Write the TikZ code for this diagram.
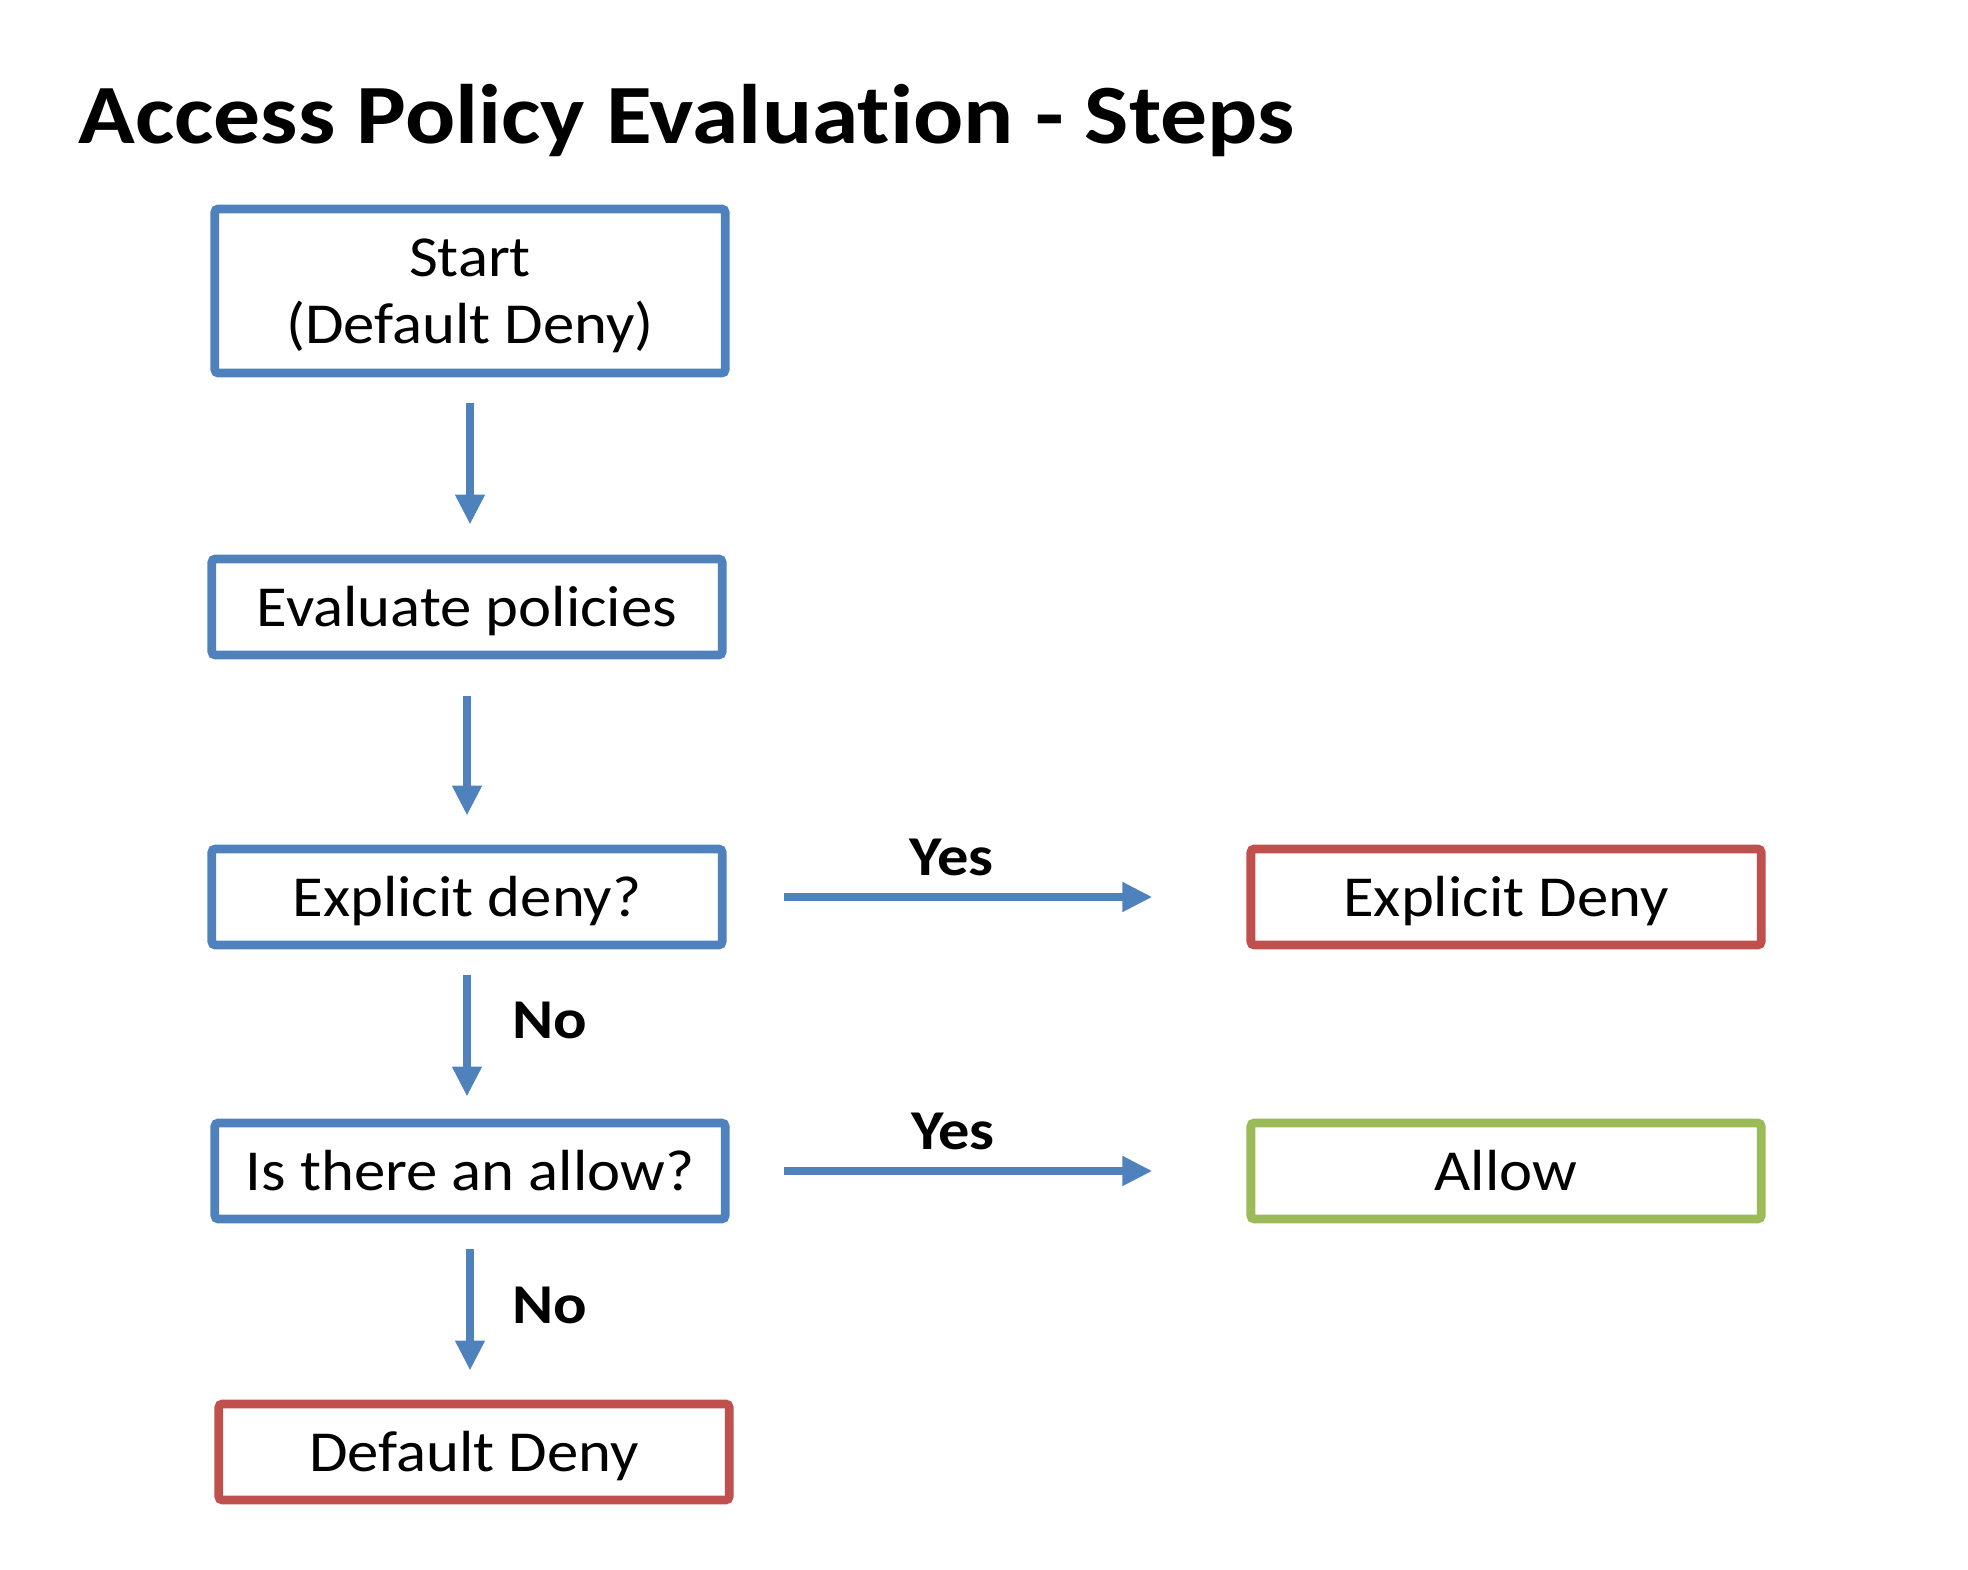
\documentclass[tikz,border=0pt]{standalone}
\usepackage{fontspec}
\setmainfont{Carlito}[FakeStretch=1.08,Ligatures=CommonOff]
\newfontfamily\headfont{Carlito}[FakeStretch=1.11,Ligatures=CommonOff]
\usetikzlibrary{arrows.meta}
\usetikzlibrary{calc}

\definecolor{stepblue}{HTML}{4F81BD}
\definecolor{stepred}{HTML}{C0504D}
\definecolor{stepgreen}{HTML}{9BBB59}

\begin{document}
\begin{tikzpicture}[x=0.01cm,y=-0.01cm,
  box/.style={shape=rectangle,draw=stepblue,line width=2.5pt,rounded corners=1pt,minimum width=5.10cm,minimum height=0.96cm,align=center,inner sep=0pt,text height=14pt,text depth=3pt,font=\fontsize{16.5}{19}\selectfont},
  flow/.style={draw=stepblue,line width=2.3pt,-{Triangle[length=0.3cm,width=0.28cm]}},
  answer/.style={font=\headfont\fontsize{16}{19}\selectfont\bfseries}]
\useasboundingbox (0,0) rectangle (1968,1570);
\draw (78,144) node (title) [anchor=base west,inner sep=0pt,font=\headfont\fontsize{24}{28}\selectfont\bfseries] {Access Policy Evaluation - Steps};
% left column
\draw (470,291) node (start) [box,minimum height=1.64cm,text height=,text depth=0pt] {Start\\(Default Deny)};
\draw (467,607) node (eval) [box] {Evaluate policies};
\draw (467,897) node (xdeny) [box] {Explicit deny?};
\draw (470,1171) node (allowq) [box] {Is there an allow?};
\draw (474,1452) node (ddeny) [box,draw=stepred] {Default Deny};
% right column
\draw (1506,897) node (edeny) [box,draw=stepred] {Explicit Deny};
\draw (1506,1171) node (allow) [box,draw=stepgreen] {Allow};
% connectors
\draw[flow,shorten <=0.26cm,shorten >=0.3cm] (start.south) -- (start.south |- eval.north);
\draw[flow,shorten <=0.37cm,shorten >=0.29cm] (eval.south) -- (eval.south |- xdeny.north);
\draw[flow,shorten <=0.26cm,shorten >=0.22cm] (xdeny.south) -- (xdeny.south |- allowq.north)
  node[answer,midway,anchor=west,xshift=0.3cm,yshift=0.14cm] {No};
\draw[flow,shorten <=0.26cm,shorten >=0.29cm] (allowq.south) -- (allowq.south |- ddeny.north)
  node[answer,midway,anchor=west,xshift=0.27cm,yshift=0.06cm] {No};
\draw[flow,shorten <=0.57cm,shorten >=0.94cm] (xdeny.east) -- (edeny.west)
  node[answer,midway,anchor=base,xshift=-0.35cm,yshift=0.21cm] {Yes};
\draw[flow,shorten <=0.54cm,shorten >=0.94cm] (allowq.east) -- (allow.west)
  node[answer,midway,anchor=base,xshift=-0.35cm,yshift=0.21cm] {Yes};
\end{tikzpicture}
\end{document}
